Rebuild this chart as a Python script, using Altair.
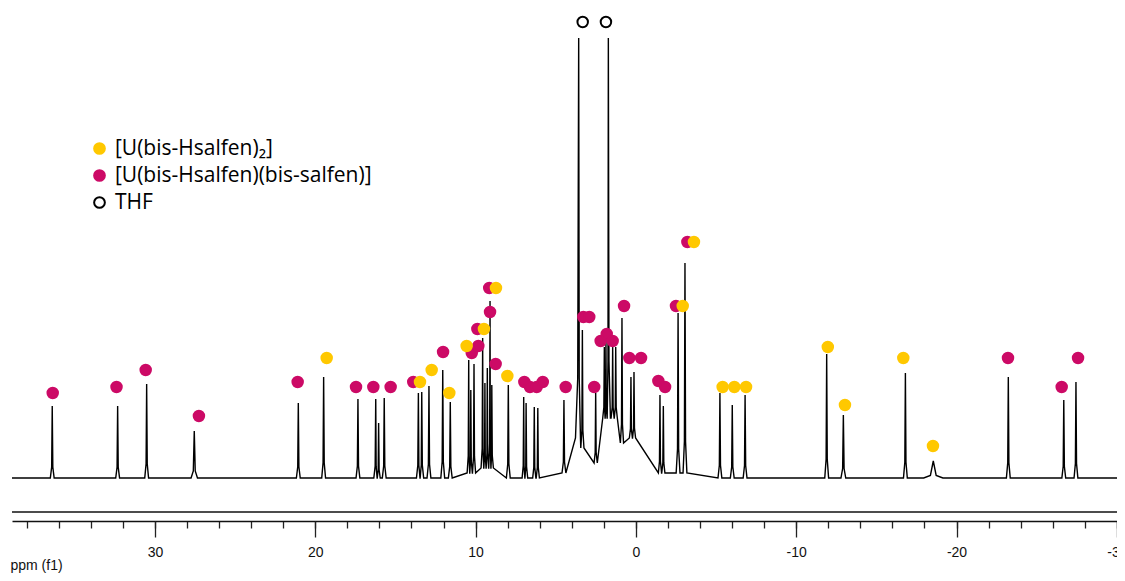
import altair as alt
import pandas as pd

# ---------------- data ----------------
# spectrum peaks (ppm, intensity above baseline, local base level, half base width)
peak_ppm = [36.41, 32.33, 30.52, 27.55, 21.06, 19.48, 17.34, 16.23, 16.05, 15.70,
            13.57, 13.36, 12.91, 12.05, 11.58, 10.43, 10.30, 10.10, 9.56, 9.42,
            9.27, 9.10, 8.99, 7.96, 7.00, 6.85, 6.34, 6.12, 4.49, 3.57,
            3.34, 2.51, 1.97, 1.87, 1.72, 1.45, 1.26, 0.87, 0.31, 0.12,
            -1.50, -1.71, -2.63, -3.06, -5.24, -6.01, -6.81, -11.90, -12.94, -16.81,
            -18.55, -23.23, -26.69, -27.45]
peak_int = [72, 72, 94, 47, 75, 101, 79, 79, 55, 80,
            85, 86, 92, 108, 76, 118, 88, 114, 140, 95,
            110, 177, 93, 93, 81, 75, 71, 70, 78, 440,
            148, 85, 131, 138, 440, 131, 131, 160, 101, 106,
            83, 72, 165, 215, 85, 73, 83, 124, 63, 105,
            17, 101, 78, 96]
peak_base = [0, 0, 0, 0, 0, 0, 0, 0, 0, 0,
             0, 0, 0, 0, 0, 5, 5, 5, 10, 10,
             10, 10, 10, 0, 0, 0, 0, 0, 5, 40,
             30, 15, 60, 60, 60, 60, 60, 35, 40, 40,
             5, 5, 5, 5, 0, 0, 0, 0, 0, 0,
             0, 0, 0, 0]
peak_hw = [0.12, 0.12, 0.12, 0.2, 0.12, 0.12, 0.12, 0.12, 0.1, 0.12,
           0.12, 0.12, 0.12, 0.12, 0.12, 0.1, 0.1, 0.1, 0.1, 0.1,
           0.1, 0.1, 0.1, 0.12, 0.1, 0.1, 0.1, 0.1, 0.12, 0.2,
           0.1, 0.1, 0.1, 0.1, 0.2, 0.1, 0.1, 0.1, 0.1, 0.1,
           0.1, 0.1, 0.12, 0.12, 0.12, 0.12, 0.12, 0.12, 0.15, 0.12,
           0.6, 0.12, 0.12, 0.12]

# assignment markers
cat_y = "[U(bis-Hsalfen)\u2082]"
cat_m = "[U(bis-Hsalfen)(bis-salfen)]"
cat_t = "THF"
magenta_ppm = [36.38, 32.40, 30.58, 27.26, 21.10, 17.46, 16.38, 15.30, 13.89, 12.03,
               10.24, 9.83, 9.89, 9.10, 9.15, 8.75, 6.96, 6.61, 6.19, 5.81,
               4.38, 3.28, 2.91, 2.60, 2.20, 1.82, 1.45, 0.74, 0.41, -0.32,
               -1.40, -1.82, -2.50, -3.21, -23.21, -26.56, -27.58]
magenta_int = [85, 91, 108, 62, 96, 91, 91, 91, 96, 126,
               125, 132, 149, 166, 190, 114, 96, 91, 91, 96,
               91, 161, 161, 91, 137, 144, 137, 172, 120, 120,
               97, 91, 172, 236, 120, 91, 120]
yellow_ppm = [19.29, 13.47, 12.74, 11.64, 10.56, 9.48, 8.73, 8.02, -2.92, -3.62,
              -5.41, -6.14, -6.87, -11.97, -13.04, -16.68, -18.53]
yellow_int = [120, 96, 108, 85, 132, 149, 190, 102, 172, 236,
              91, 91, 91, 131, 73, 120, 32]
thf_ppm = [3.32, 1.87]
thf_int = [456, 456]

minor_ticks = list(range(-30, 40, 2))
major_ticks = [-30, -20, -10, 0, 10, 20, 30]

# ---------------- build tables ----------------
order = sorted(range(len(peak_ppm)), key=lambda i: -peak_ppm[i])
P = [peak_ppm[i] for i in order]
H = [peak_int[i] for i in order]
B = [peak_base[i] for i in order]
W = [peak_hw[i] for i in order]
x_left, x_right = 38.92, -30.01
pts = [(x_left, 0)]
for k in range(len(P)):
    lw = W[k] if k == 0 else min(W[k], 0.48 * (P[k - 1] - P[k]))
    rw = W[k] if k == len(P) - 1 else min(W[k], 0.48 * (P[k] - P[k + 1]))
    sk = B[k] + 0.15 * (H[k] - B[k])
    pts += [(P[k] + lw, B[k]), (P[k] + 0.3 * lw, sk), (P[k], H[k]),
            (P[k] - 0.3 * rw, sk), (P[k] - rw, B[k])]
pts.append((x_right, 0))
spec = pd.DataFrame({"ppm": [p[0] for p in pts], "int": [p[1] for p in pts],
                     "idx": list(range(len(pts)))})

dots = pd.DataFrame({
    "ppm": magenta_ppm + yellow_ppm + thf_ppm,
    "int": magenta_int + yellow_int + thf_int,
    "cat": [cat_m] * len(magenta_ppm) + [cat_y] * len(yellow_ppm) + [cat_t] * len(thf_ppm),
})
dots["z"] = range(len(dots))

frame = pd.DataFrame({"v": [-34]})

# ---------------- chart ----------------
xscale = alt.Scale(domain=[x_left, x_right], nice=False, zero=False)
yscale = alt.Scale(domain=[-34, 470], nice=False, zero=False)

common = dict(orient="bottom", offset=9, grid=False, labelOverlap=False, labelFlush=False,
              tickColor="#222", tickWidth=1.3, domainColor="#111", domainWidth=1.4)

minor_axis = alt.Axis(values=minor_ticks, tickSize=7, labels=False, title=None,
                      domain=True, **common)
major_axis = alt.Axis(
    values=major_ticks, tickSize=16, domain=False,
    labelExpr="'' + datum.value", labelPadding=8,
    labelFont="Liberation Sans", labelFontSize=14, labelColor="#111",
    title="ppm (f1)", titleFont="Liberation Sans", titleFontSize=14,
    titleFontWeight="normal", titleColor="#111", titleAnchor="start", titleAlign="left",
    titleX=-2, titleY=48, titleBaseline="alphabetic", **common,
)

line = alt.Chart(spec).mark_line(color="black", strokeWidth=1.4).encode(
    x=alt.X("ppm:Q", scale=xscale, axis=minor_axis),
    y=alt.Y("int:Q", scale=yscale, axis=None),
    order="idx:Q",
)

rule = alt.Chart(frame).mark_rule(color="#111", strokeWidth=1.4).encode(
    y=alt.Y("v:Q", scale=yscale, axis=None)
)

cats = [cat_y, cat_m, cat_t]
leg = alt.Legend(
    title=None, orient="none", legendX=77, legendY=130,
    labelFont="Open Sans", labelFontSize=21, labelColor="black", labelLimit=0,
    symbolType="circle", symbolSize=115, symbolStrokeWidth=2, labelOffset=5,
    rowPadding=5,
)
points = alt.Chart(dots).mark_point(filled=True, opacity=1, strokeWidth=2, size=110).encode(
    x=alt.X("ppm:Q", scale=xscale, axis=major_axis),
    y=alt.Y("int:Q", scale=yscale),
    fill=alt.Fill("cat:N", scale=alt.Scale(domain=cats, range=["#FFC800", "#CC0A66", "white"]), legend=leg),
    stroke=alt.Stroke("cat:N", scale=alt.Scale(domain=cats, range=["#FFC800", "#CC0A66", "black"]), legend=leg),
    order=alt.Order("z:Q"),
)

chart = alt.layer(rule, line, points).resolve_axis(x="independent").properties(
    width=1105, height=504,
    autosize=alt.AutoSizeParams(type="none"),
    padding={"left": 4, "top": 0, "right": 0, "bottom": 61},
).configure_view(stroke=None)

chart.save("out.html", embed_options={"renderer": "svg", "actions": False})
